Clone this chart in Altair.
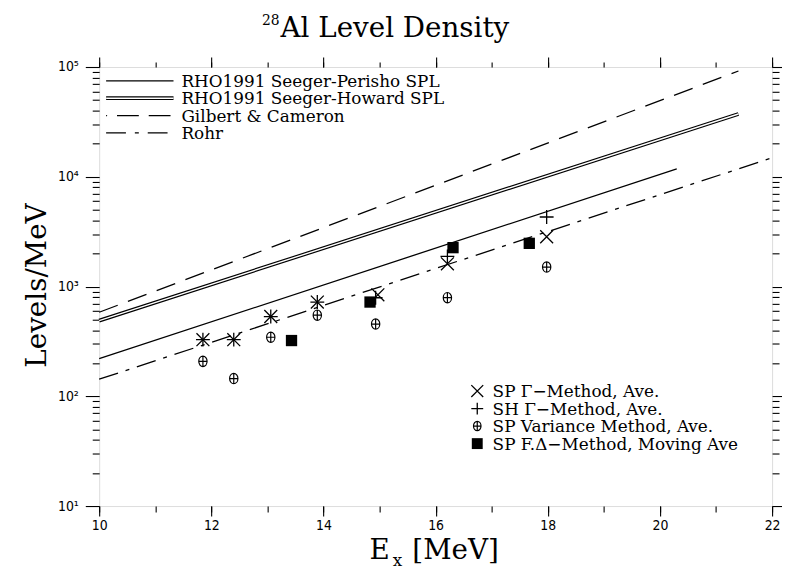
import altair as alt
import pandas as pd

# ---------------- data ----------------
# model curves (endpoints of straight lines on the log plot)
sp_E = [10.0, 20.3]
sp_v = [220, 11800]          # RHO1991 Seeger-Perisho SPL
sh_E = [10.0, 21.4]
sh_v = [489, 37300]          # RHO1991 Seeger-Howard SPL
gc_E = [10.0, 21.4]
gc_v = [583, 92000]          # Gilbert & Cameron
ro_E = [10.0, 22.0]
ro_v = [143, 14900]          # Rohr

# measured points
spg_E = [11.85, 12.40, 13.06, 13.89, 14.97, 16.21, 17.98]
spg_v = [328, 328, 533, 722, 840, 1610, 2840]      # SP Gamma-method
shg_E = [11.85, 12.40, 13.06, 13.89, 14.93, 16.21, 17.98]
shg_v = [328, 328, 533, 722, 790, 1880, 4300]      # SH Gamma-method
var_E = [11.85, 12.40, 13.06, 13.89, 14.93, 16.21, 17.98]
var_v = [208, 145, 345, 548, 455, 791, 1504]       # SP variance method
fd_E = [13.43, 14.83, 16.31, 17.67]
fd_v = [322, 722, 2260, 2475]                      # SP F.Delta-method

line_labels = ["RHO1991 Seeger-Perisho SPL", "RHO1991 Seeger-Howard SPL",
               "Gilbert & Cameron", "Rohr"]
point_labels = ["SP \u0393\u2212Method, Ave.", "SH \u0393\u2212Method, Ave.",
                "SP Variance Method, Ave.", "SP F.\u0394\u2212Method, Moving Ave"]
title_main = "Al Level Density"
title_sup = "28"
xtitle_parts = ["E", "x", "[MeV]"]
ytitle = "Levels/MeV"

x_major = [10, 12, 14, 16, 18, 20, 22]
x_minor = list(range(10, 23))
y_major = [10, 100, 1000, 10000, 100000]
y_minor = [m * 10 ** d for d in range(1, 5) for m in range(2, 10)]

# ---------------- styles ----------------
SERIF = "DejaVu Serif"
TICKFONT = "DejaVu Sans Condensed, Liberation Sans Narrow, Liberation Sans"
BLACK = "black"

xs = alt.Scale(domain=[10, 22], nice=False, zero=False)
ys = alt.Scale(type="log", domain=[10, 100000], nice=False)

common = dict(grid=False, domain=False, tickColor=BLACK, tickWidth=1.1,
              labelFlush=False)

ax_bottom_minor = alt.Axis(orient="bottom", values=x_minor, tickSize=6,
                           labels=False, title=None, **common)
ax_bottom_major = alt.Axis(orient="bottom", values=x_major, tickSize=10,
                           labelPadding=3, labelFont=TICKFONT, labelFontSize=14,
                           labelColor=BLACK, title=None, **common)
ax_top_minor = alt.Axis(orient="top", values=x_minor, tickSize=5,
                        labels=False, title=None, **common)
ax_top_major = alt.Axis(orient="top", values=x_major, tickSize=10,
                        labels=False, title=None, **common)

sup = "['\u2070','\u00b9','\u00b2','\u00b3','\u2074','\u2075'][round(log(datum.value)/LN10)]"
ax_left_minor = alt.Axis(orient="left", values=y_minor, tickSize=7,
                         labels=False, title=None, **common)
ax_left_major = alt.Axis(orient="left", values=y_major, tickSize=14,
                         labelPadding=7, labelFont=TICKFONT, labelFontSize=14,
                         labelColor=BLACK, labelExpr="'10' + " + sup,
                         title=ytitle, titleFont=SERIF, titleFontSize=28,
                         titleFontWeight="normal", titleColor=BLACK,
                         titleAngle=270, titleX=-62, titleY=220,
                         titleAlign="center", titleBaseline="middle", **common)
ax_right_minor = alt.Axis(orient="right", values=y_minor, tickSize=7,
                          labels=False, title=None, **common)
ax_right_major = alt.Axis(orient="right", values=y_major, tickSize=14,
                          labels=False, title=None, **common)


def df(E, v):
    return pd.DataFrame({"E": E, "v": v})


def enc(chart, xa=None, ya=None):
    return chart.encode(
        x=alt.X("E:Q", scale=xs, axis=xa),
        y=alt.Y("v:Q", scale=ys, axis=ya),
    )


lw = 1.3
rohr = enc(alt.Chart(df(ro_E, ro_v)).mark_line(color=BLACK, strokeWidth=lw,
                                                strokeDash=[20, 8, 4, 8], strokeCap="butt"),
           ax_bottom_minor, ax_left_minor)
sp = enc(alt.Chart(df(sp_E, sp_v)).mark_line(color=BLACK, strokeWidth=lw),
         ax_bottom_major, ax_left_major)
gc = enc(alt.Chart(df(gc_E, gc_v)).mark_line(color=BLACK, strokeWidth=lw,
                                              strokeDash=[20, 11], strokeCap="butt"),
         ax_top_minor, ax_right_minor)
sh_outer = enc(alt.Chart(df(sh_E, sh_v)).mark_line(color=BLACK, strokeWidth=3.8),
               ax_top_major, ax_right_major)
sh_inner = enc(alt.Chart(df(sh_E, sh_v)).mark_line(color="white", strokeWidth=1.4))

X_SHAPE = "M-1,-1L1,1M-1,1L1,-1"
P_SHAPE = "M-1,0L1,0M0,-1L0,1"
D_SHAPE = "M-0.8,0A0.8,1,0,1,1,0.8,0A0.8,1,0,1,1,-0.8,0ZM-0.8,0L0.8,0M0,-1L0,1"

pts_x = enc(alt.Chart(df(spg_E, spg_v)).mark_point(shape=X_SHAPE, filled=False,
                                                    stroke=BLACK, strokeWidth=1.3, size=169, opacity=1))
pts_p = enc(alt.Chart(df(shg_E, shg_v)).mark_point(shape=P_SHAPE, filled=False,
                                                    stroke=BLACK, strokeWidth=1.3, size=196, opacity=1))
pts_d = enc(alt.Chart(df(var_E, var_v)).mark_point(shape=D_SHAPE, filled=False,
                                                    stroke=BLACK, strokeWidth=1.2, size=110, opacity=1))
pts_s = enc(alt.Chart(df(fd_E, fd_v)).mark_point(shape="square", filled=True,
                                                  color=BLACK, size=130, opacity=1))

layers = [rohr, sp, gc, sh_outer, sh_inner, pts_x, pts_p, pts_d, pts_s]


def txt(s, x, y, size, align="left", baseline="middle"):
    return alt.Chart(pd.DataFrame({"t": [s]})).mark_text(
        font=SERIF, fontSize=size, align=align, baseline=baseline, color=BLACK
    ).encode(x=alt.value(x), y=alt.value(y), text="t:N")


# title (with superscript mass number) and x-axis title pieces,
# positioned relative to the plot origin
layers.append(txt(title_main, 183, -30, 28, align="left", baseline="alphabetic"))
layers.append(txt(title_sup, 182, -42, 14, align="right", baseline="alphabetic"))
layers.append(txt(xtitle_parts[0], 283, 488, 28, align="center"))
layers.append(txt(xtitle_parts[1], 301, 499, 17, align="center"))
layers.append(txt(xtitle_parts[2], 316, 488, 28, align="left"))

# ---------------- legends (drawn inside the frame) ----------------
lrow = [14, 31.5, 49, 66.5]
lx0, lx1, ltx = 7, 75, 83
line_styles = [
    dict(strokeWidth=lw),
    None,
    dict(strokeWidth=lw, strokeDash=[22, 10], strokeDashOffset=-11),
    dict(strokeWidth=lw, strokeDash=[20, 9, 4, 9]),
]
for i, lab in enumerate(line_labels):
    d = pd.DataFrame({"t": [lab]})
    if line_styles[i] is None:
        layers.append(alt.Chart(d).mark_rule(color=BLACK, strokeWidth=3.8).encode(
            x=alt.value(lx0), x2=alt.value(lx1), y=alt.value(lrow[i])))
        layers.append(alt.Chart(d).mark_rule(color="white", strokeWidth=1.4).encode(
            x=alt.value(lx0), x2=alt.value(lx1), y=alt.value(lrow[i])))
    else:
        layers.append(alt.Chart(d).mark_rule(color=BLACK, strokeCap="butt",
                                             **line_styles[i]).encode(
            x=alt.value(lx0), x2=alt.value(lx1), y=alt.value(lrow[i])))
    layers.append(txt(lab, ltx, lrow[i] + 1, 17))

prow = [327, 344.7, 362.3, 380]
pmx, ptx = 381.5, 397
pshapes = [
    dict(shape=X_SHAPE, filled=False, stroke=BLACK, strokeWidth=1.3, size=144),
    dict(shape=P_SHAPE, filled=False, stroke=BLACK, strokeWidth=1.3, size=144),
    dict(shape=D_SHAPE, filled=False, stroke=BLACK, strokeWidth=1.2, size=90),
    dict(shape="square", filled=True, color=BLACK, size=121),
]
for i, lab in enumerate(point_labels):
    d = pd.DataFrame({"t": [lab]})
    layers.append(alt.Chart(d).mark_point(opacity=1, **pshapes[i]).encode(
        x=alt.value(pmx), y=alt.value(prow[i])))
    layers.append(txt(lab, ptx, prow[i] + 1, 17))

chart = alt.layer(*layers).resolve_axis(x="independent", y="independent").properties(
    width=679,
    height=443,
    autosize=alt.AutoSizeParams(type="none"),
    padding={"left": 92, "top": 57, "right": 10, "bottom": 63},
).configure_view(stroke=BLACK, strokeWidth=1.2).configure(background="white")

chart.save("out.html", embed_options={"renderer": "svg", "actions": False})
